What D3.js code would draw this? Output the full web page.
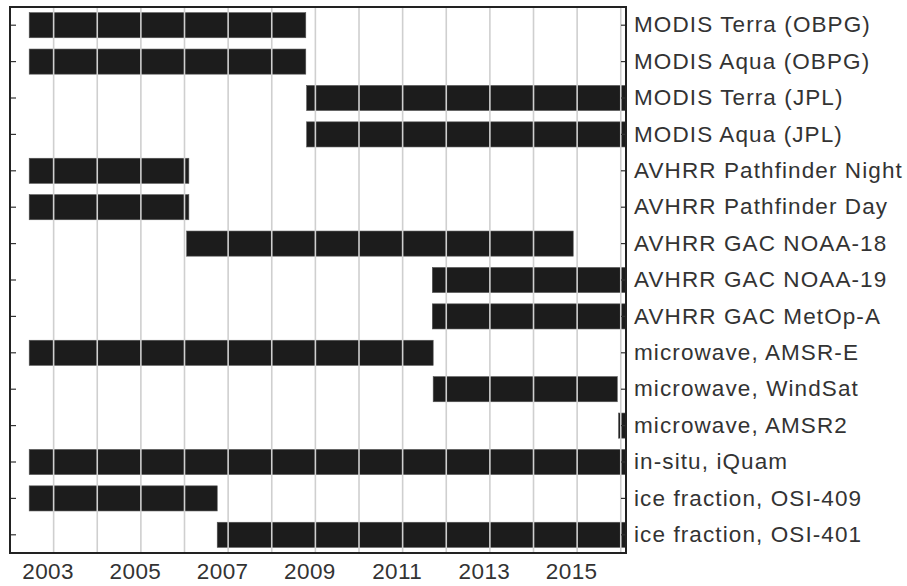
<!DOCTYPE html>
<html>
<head>
<meta charset="utf-8">
<script src="https://cdn.jsdelivr.net/npm/d3@7"></script>
<style>
  html, body { margin: 0; padding: 0; background: #fff; }
  #chart { width: 907px; height: 586px; }
  text { font-family: "Liberation Sans", Arial, sans-serif; fill: #333; }
</style>
</head>
<body>
<div id="chart"></div>
<script>
const products = [
    "MODIS Terra (OBPG)",
    "MODIS Aqua (OBPG)",
    "MODIS Terra (JPL)",
    "MODIS Aqua (JPL)",
    "AVHRR Pathfinder Night",
    "AVHRR Pathfinder Day",
    "AVHRR GAC NOAA-18",
    "AVHRR GAC NOAA-19",
    "AVHRR GAC MetOp-A",
    "microwave, AMSR-E",
    "microwave, WindSat",
    "microwave, AMSR2",
    "in-situ, iQuam",
    "ice fraction, OSI-409",
    "ice fraction, OSI-401"
];
// start / end of each product, decimal years (2016.12 = still running at plot edge)
const startYears = [2002.44, 2002.44, 2008.8, 2008.8, 2002.44, 2002.44, 2006.05, 2011.68, 2011.68, 2002.44, 2011.7, 2015.95, 2002.44, 2002.44, 2006.75];
const endYears = [2008.78, 2008.78, 2016.12, 2016.12, 2006.1, 2006.1, 2014.91, 2016.12, 2016.12, 2011.7, 2015.92, 2016.12, 2016.12, 2006.75, 2016.12];
const labelYears = [2003, 2005, 2007, 2009, 2011, 2013, 2015];
const gridYears = [2003, 2004, 2005, 2006, 2007, 2008, 2009, 2010, 2011, 2012, 2013, 2014, 2015, 2016];

const data = products.map((name, i) => ({ name, start: startYears[i], end: endYears[i] }));

const margin = { top: 7, right: 281, bottom: 33, left: 10 };
const width = 907 - margin.left - margin.right;
const height = 586 - margin.top - margin.bottom;

const svg = d3.select("#chart")
    .append("svg")
    .attr("width", 907)
    .attr("height", 586)
    .append("g")
    .attr("transform", `translate(${margin.left},${margin.top})`);

const x = d3.scaleLinear()
    .domain([2002, 2016.12])
    .range([0, width]);

const y = d3.scaleBand()
    .domain(products)
    .range([0, height])
    .paddingInner(0.31)
    .paddingOuter(0.155);

// bars
svg.selectAll(".bar")
    .data(data)
    .enter()
    .append("rect")
    .attr("class", "bar")
    .attr("x", d => x(d.start))
    .attr("y", d => y(d.name))
    .attr("width", d => x(d.end) - x(d.start))
    .attr("height", y.bandwidth())
    .attr("fill", "#1c1c1c")
    .attr("stroke", "#555")
    .attr("stroke-width", 0.6);

// grid lines drawn over the bars
svg.selectAll(".grid")
    .data(gridYears)
    .enter()
    .append("line")
    .attr("class", "grid")
    .attr("x1", d => x(d))
    .attr("x2", d => x(d))
    .attr("y1", 0)
    .attr("y2", height)
    .attr("stroke", "#cfcfcf")
    .attr("stroke-width", 1.6);

// left ticks, inside
svg.append("g")
    .call(d3.axisLeft(y).tickSize(-6).tickFormat(""))
    .call(g => g.select(".domain").remove())
    .call(g => g.selectAll("line").attr("stroke", "#333").attr("stroke-width", 1.2));

// right axis with product names
svg.append("g")
    .attr("transform", `translate(${width},0)`)
    .call(d3.axisRight(y).tickSize(-5).tickPadding(8))
    .call(g => g.select(".domain").remove())
    .call(g => g.selectAll("line").attr("stroke", "#333").attr("stroke-width", 1.2))
    .call(g => g.selectAll("text")
        .attr("font-size", 22.5)
        .attr("letter-spacing", 1.1)
        .attr("fill", "#2e2e2e"));

// bottom labels
svg.append("g")
    .attr("transform", `translate(0,${height})`)
    .call(d3.axisBottom(x).tickValues(labelYears).tickFormat(d3.format("d")).tickSize(0).tickPadding(10))
    .call(g => g.select(".domain").remove())
    .call(g => g.selectAll("text")
        .attr("font-size", 22.5)
        .attr("letter-spacing", 0.4)
        .attr("dx", -6)
        .attr("fill", "#2e2e2e"));

// frame
svg.append("rect")
    .attr("x", 0)
    .attr("y", 0)
    .attr("width", width)
    .attr("height", height)
    .attr("fill", "none")
    .attr("stroke", "#222")
    .attr("stroke-width", 2);
</script>
</body>
</html>
